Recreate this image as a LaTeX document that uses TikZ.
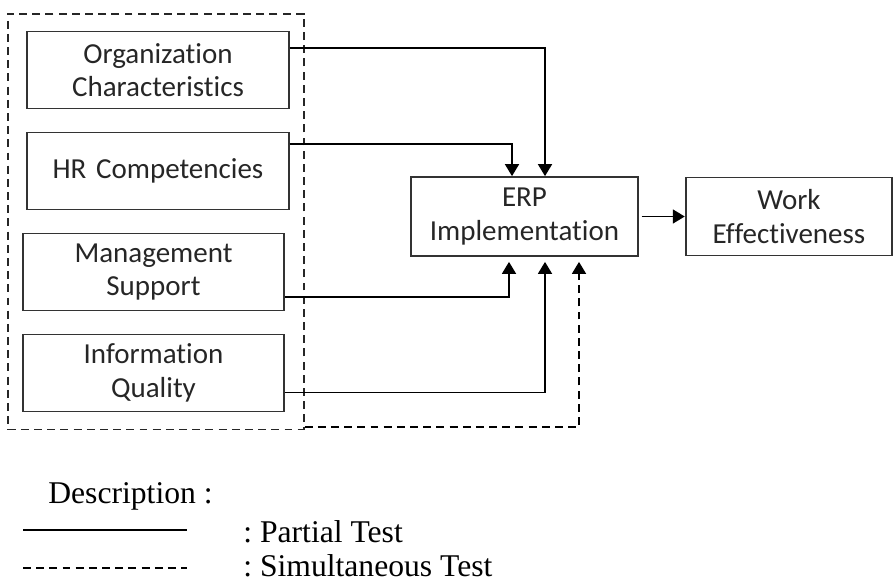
\documentclass[tikz,border=0pt]{standalone}
\usepackage{fontspec}
\setmainfont{Liberation Serif}
\newfontfamily\boxfont[Ligatures={NoCommon}]{Carlito}
\usetikzlibrary{arrows.meta, fit}
\frenchspacing
\tikzstyle{factor} = [rectangle, minimum width=5.16cm, minimum height=1.54cm, text centered, text width=5cm, draw=black!80, line width=1pt, text=black!85, font=\boxfont\fontsize{16.5}{19}\selectfont]
\tikzstyle{group} = [rectangle, draw=black!85, line width=1pt, dash pattern=on 4.5pt off 3pt, inner xsep=0.28cm, inner ysep=0.34cm]
\tikzstyle{legend} = [anchor=base west, inner sep=0pt, font=\fontsize{18}{21}\selectfont]
\tikzstyle{arrow} = [line width=1pt, -{Triangle[length=0.24cm, width=0.28cm]}]
\tikzstyle{dasharrow} = [arrow, dash pattern=on 4.5pt off 3pt]

\begin{document}
\begin{tikzpicture}[node distance=2.02cm]
\useasboundingbox (0,0) rectangle (17.86,-11.62);

%% factor boxes
\node (org)  [factor] at (3.16,-1.40) {Organization\\Characteristics};
\node (hr)   [factor, below of=org] {HR Competencies};
\node (mgmt) [factor, below of=hr, xshift=-0.09cm] {Management\\Support};
\node (info) [factor, below of=mgmt] {Information\\Quality};
\node (erp)  [factor, right of=hr, xshift=5.31cm, yshift=-0.91cm, minimum width=4.42cm, text width=4.3cm, minimum height=1.58cm] {ERP\\Implementation};
\node (work) [factor, right of=erp, xshift=3.27cm, minimum width=4.04cm, text width=3.9cm, minimum height=1.56cm] {Work\\Effectiveness};
\node (all)  [group, fit=(org)(info)] {};

%% Draw the connectivity.
\draw [arrow] ([yshift=0.44cm]org.east) -| ([xshift=0.41cm]erp.north);
\draw [arrow] ([yshift=0.54cm]hr.east) -| ([xshift=-0.25cm]erp.north);
\draw [arrow, shorten >=0.1cm] ([yshift=-0.50cm]mgmt.east) -| ([xshift=-0.31cm]erp.south);
\draw [arrow, shorten >=0.1cm] ([yshift=-0.39cm]info.east) -| ([xshift=0.41cm]erp.south);
\draw [dasharrow, shorten >=0.1cm] ([yshift=0.06cm]all.south east) -| ([xshift=1.09cm]erp.south);
\draw [arrow, shorten <=0.06cm] (erp) -- (work);

%% legend
\node (desc) [legend] at (0.96,-10.06) {Description :};
\node (part) [legend] at (4.86,-10.84) {: Partial Test};
\node (simu) [legend] at (4.86,-11.53) {: Simultaneous Test};
\coordinate (solidA) at (0.46,-10.60);
\coordinate (solidB) at (3.74,-10.60);
\coordinate (dashA) at (0.46,-11.36);
\coordinate (dashB) at (3.74,-11.36);
\draw [line width=1pt] (solidA) -- (solidB);
\draw [line width=1pt, dash pattern=on 4.5pt off 3pt] (dashA) -- (dashB);
\end{tikzpicture}
\end{document}
